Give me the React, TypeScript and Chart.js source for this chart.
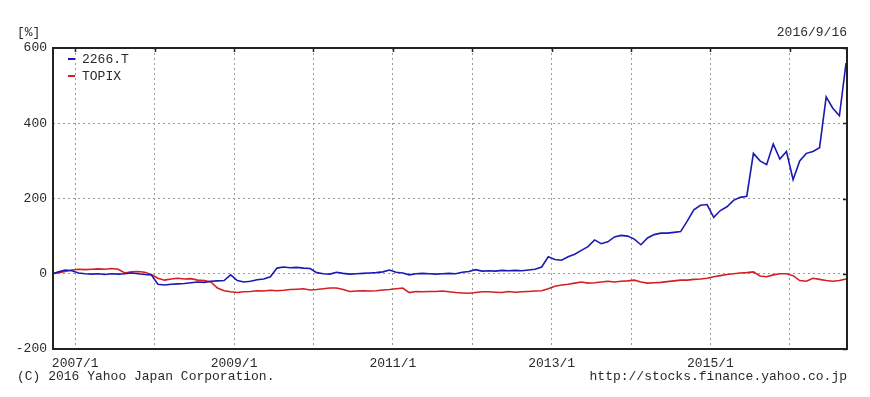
import React, { useEffect, useRef } from "react";
import { Chart, registerables } from "chart.js";

Chart.register(...registerables);

// Monthly sample dates (year/month, mid-month)
const dates: string[] = [
  "2006/9", "2006/10", "2006/11", "2006/12",
  "2007/1", "2007/2", "2007/3", "2007/4", "2007/5", "2007/6", "2007/7", "2007/8", "2007/9", "2007/10", "2007/11", "2007/12",
  "2008/1", "2008/2", "2008/3", "2008/4", "2008/5", "2008/6", "2008/7", "2008/8", "2008/9", "2008/10", "2008/11", "2008/12",
  "2009/1", "2009/2", "2009/3", "2009/4", "2009/5", "2009/6", "2009/7", "2009/8", "2009/9", "2009/10", "2009/11", "2009/12",
  "2010/1", "2010/2", "2010/3", "2010/4", "2010/5", "2010/6", "2010/7", "2010/8", "2010/9", "2010/10", "2010/11", "2010/12",
  "2011/1", "2011/2", "2011/3", "2011/4", "2011/5", "2011/6", "2011/7", "2011/8", "2011/9", "2011/10", "2011/11", "2011/12",
  "2012/1", "2012/2", "2012/3", "2012/4", "2012/5", "2012/6", "2012/7", "2012/8", "2012/9", "2012/10", "2012/11", "2012/12",
  "2013/1", "2013/2", "2013/3", "2013/4", "2013/5", "2013/6", "2013/7", "2013/8", "2013/9", "2013/10", "2013/11", "2013/12",
  "2014/1", "2014/2", "2014/3", "2014/4", "2014/5", "2014/6", "2014/7", "2014/8", "2014/9", "2014/10", "2014/11", "2014/12",
  "2015/1", "2015/2", "2015/3", "2015/4", "2015/5", "2015/6", "2015/7", "2015/8", "2015/9", "2015/10", "2015/11", "2015/12",
  "2016/1", "2016/2", "2016/3", "2016/4", "2016/5", "2016/6", "2016/7", "2016/8", "2016/9",
];

// 2266.T change [%]
const stock2266: number[] = [
  0, 5, 10, 8,
  2, 0, -1, 0, -2, 0, -1, 0, 2, 0, -2, -3,
  -28, -30, -28, -27, -26, -24, -22, -23, -20, -19, -18, -3,
  -18, -22, -20, -16, -14, -8, 15, 18, 16, 17, 15, 14,
  3, 0, -1, 4, 1, -1, 0, 1, 2, 3, 5, 10,
  4, 2, -3, 0, 1, 0, -1, 0, 1, 0, 4, 6,
  11, 7, 8, 7, 9, 8, 9, 8, 10, 12, 18, 45,
  38, 36, 45, 52, 62, 72, 90, 80, 85, 98, 102, 100,
  92, 77, 95, 104, 108, 108, 110, 112, 140, 170, 182, 184,
  150, 168, 178, 195, 203, 206, 320, 300, 290, 345, 305, 325,
  250, 300, 320, 325, 335, 470, 440, 420, 560,
];

// TOPIX change [%]
const topix: number[] = [
  0, 3, 6, 10,
  12, 11, 12, 13, 12, 14, 12, 2, 5, 6, 4, -2,
  -12, -17, -14, -12, -14, -13, -17, -18, -22, -38, -45, -48,
  -50, -48, -47, -45, -46, -44, -45, -44, -42, -41, -40, -43,
  -42, -40, -38, -38, -42, -47, -46, -45, -46, -45, -43, -42,
  -40, -38, -50, -47, -48, -47, -47, -46, -48, -50, -51, -52,
  -50, -48, -48, -49, -50, -47, -49, -48, -47, -46, -45, -40,
  -33, -30, -28, -25, -22, -25, -24, -22, -20, -22, -20, -19,
  -17, -22, -25, -24, -23, -21, -19, -17, -17, -15, -14, -12,
  -8, -5, -2, 0, 2, 3, 5, -6, -8, -3, 0, 0,
  -5, -18, -20, -12, -15, -18, -20, -18, -14,
];

const seriesNames = ["2266.T", "TOPIX"];
const seriesColors = ["#1a1ab4", "#d42020"];
const yTicks = [-200, 0, 200, 400, 600];
const yearTicks = [2007, 2008, 2009, 2010, 2011, 2012, 2013, 2014, 2015, 2016];
const labeledYears = [2007, 2009, 2011, 2013, 2015];
const xMin = 2006.72;
const xMax = 2016.72;
const asOfDate = "2016/9/16";
const unitLabel = "[%]";
const copyright = "(C) 2016 Yahoo Japan Corporation.";
const sourceUrl = "http://stocks.finance.yahoo.co.jp";

const FONT = "13px 'Liberation Mono', 'DejaVu Sans Mono', monospace";
const TEXT_COLOR = "#2a2a2a";

function toDecimalYear(d: string): number {
  const [y, m] = d.split("/").map(Number);
  return y + (m - 1) / 12 + 15 / 365;
}

const decorPlugin = {
  id: "decor",
  afterDatasetsDraw(chart: any) {
    const { ctx, chartArea } = chart;
    const { left, top, right, bottom } = chartArea;
    const xs = chart.scales.x;
    const ys = chart.scales.y;
    ctx.save();
    // frame
    ctx.strokeStyle = "#222";
    ctx.lineWidth = 2;
    ctx.strokeRect(left, top, right - left, bottom - top);
    // inner tick marks
    ctx.lineWidth = 1.5;
    ctx.beginPath();
    yearTicks.forEach((yr) => {
      const px = Math.round(xs.getPixelForValue(yr)) + 0.5;
      ctx.moveTo(px, top);
      ctx.lineTo(px, top + 4);
    });
    yTicks.forEach((v) => {
      const py = Math.round(ys.getPixelForValue(v)) + 0.5;
      ctx.moveTo(right, py);
      ctx.lineTo(right - 4, py);
    });
    ctx.stroke();

    // legend inside plot
    ctx.font = FONT;
    ctx.textBaseline = "middle";
    chart.data.datasets.forEach((ds: any, i: number) => {
      const ly = top + 11 + i * 17;
      ctx.strokeStyle = ds.borderColor;
      ctx.lineWidth = 2;
      ctx.beginPath();
      ctx.moveTo(left + 15, ly);
      ctx.lineTo(left + 22, ly);
      ctx.stroke();
      ctx.fillStyle = TEXT_COLOR;
      ctx.textAlign = "left";
      ctx.fillText(ds.label, left + 29, ly + 1);
    });

    // header & footer texts
    ctx.fillStyle = TEXT_COLOR;
    ctx.textAlign = "left";
    ctx.fillText(unitLabel, 17, 33);
    ctx.textAlign = "right";
    ctx.fillText(asOfDate, right, 33);
    ctx.textAlign = "left";
    ctx.fillText(copyright, 17, 377);
    ctx.textAlign = "right";
    ctx.fillText(sourceUrl, right, 377);
    ctx.restore();
  },
};

export default function App() {
  const canvasRef = useRef<HTMLCanvasElement | null>(null);

  useEffect(() => {
    if (!canvasRef.current) return;
    const xs = dates.map(toDecimalYear);
    const chart = new Chart(canvasRef.current, {
      type: "line",
      data: {
        datasets: [
          {
            label: seriesNames[0],
            data: xs.map((x, i) => ({ x, y: stock2266[i] })),
            borderColor: seriesColors[0],
            backgroundColor: seriesColors[0],
            borderWidth: 1.6,
            pointRadius: 0,
            tension: 0,
          },
          {
            label: seriesNames[1],
            data: xs.map((x, i) => ({ x, y: topix[i] })),
            borderColor: seriesColors[1],
            backgroundColor: seriesColors[1],
            borderWidth: 1.6,
            pointRadius: 0,
            tension: 0,
          },
        ],
      },
      options: {
        responsive: false,
        animation: false,
        layout: { padding: { top: 48, right: 23, left: 0, bottom: 0 } },
        plugins: {
          legend: { display: false },
          tooltip: { enabled: false },
        },
        scales: {
          x: {
            type: "linear",
            min: xMin,
            max: xMax,
            afterFit: (s: any) => {
              s.height = 48;
            },
            afterBuildTicks: (s: any) => {
              s.ticks = yearTicks.map((v) => ({ value: v }));
            },
            grid: {
              color: "#9a9a9a",
              lineWidth: 1,
              drawTicks: false,
              tickBorderDash: [],
            },
            border: { display: false, dash: [2, 3] },
            ticks: {
              autoSkip: false,
              maxRotation: 0,
              padding: 7,
              color: TEXT_COLOR,
              font: { family: "'Liberation Mono', 'DejaVu Sans Mono', monospace", size: 13 },
              callback: (v: any) => (labeledYears.includes(Number(v)) ? `${v}/1` : ""),
            },
          },
          y: {
            type: "linear",
            min: -200,
            max: 600,
            afterFit: (s: any) => {
              s.width = 53;
            },
            afterBuildTicks: (s: any) => {
              s.ticks = yTicks.map((v) => ({ value: v }));
            },
            grid: {
              color: "#9a9a9a",
              lineWidth: 1,
              drawTicks: false,
            },
            border: { display: false, dash: [2, 3] },
            ticks: {
              padding: 6,
              color: TEXT_COLOR,
              font: { family: "'Liberation Mono', 'DejaVu Sans Mono', monospace", size: 13 },
            },
          },
        },
      },
      plugins: [decorPlugin],
    });
    return () => chart.destroy();
  }, []);

  return (
    <div style={{ position: "fixed", left: 0, top: 0, width: 870, height: 397, background: "#fff" }}>
      <canvas ref={canvasRef} width={870} height={397} style={{ display: "block" }} />
    </div>
  );
}
